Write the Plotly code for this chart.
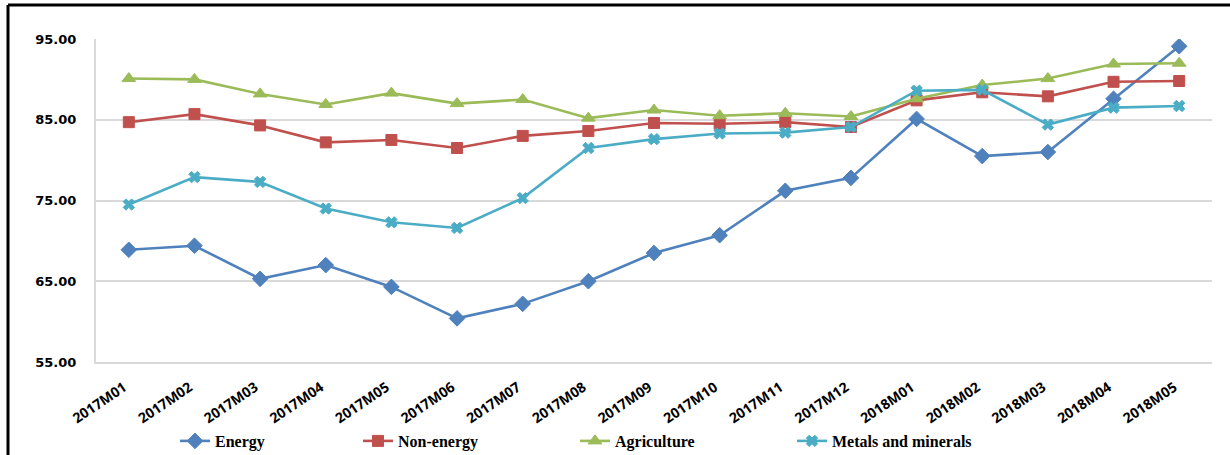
import plotly.graph_objects as go

months = ["2017M01", "2017M02", "2017M03", "2017M04", "2017M05", "2017M06",
          "2017M07", "2017M08", "2017M09", "2017M10", "2017M11", "2017M12",
          "2018M01", "2018M02", "2018M03", "2018M04", "2018M05"]

energy = [68.9, 69.4, 65.3, 67.0, 64.3, 60.4, 62.2, 65.0, 68.5, 70.7, 76.2, 77.8,
          85.1, 80.5, 81.0, 87.6, 94.1]
non_energy = [84.7, 85.7, 84.3, 82.2, 82.5, 81.5, 83.0, 83.6, 84.6, 84.5, 84.7, 84.1,
              87.4, 88.4, 87.9, 89.7, 89.8]
agriculture = [90.1, 90.0, 88.2, 86.9, 88.3, 87.0, 87.5, 85.2, 86.2, 85.5, 85.8, 85.4,
               87.6, 89.3, 90.1, 91.9, 92.0]
metals = [74.5, 77.9, 77.3, 74.0, 72.3, 71.6, 75.3, 81.5, 82.6, 83.3, 83.4, 84.1,
          88.6, 88.7, 84.4, 86.5, 86.7]

y_ticks = [55, 65, 75, 85, 95]
y_tick_text = ["55.00", "65.00", "75.00", "85.00", "95.00"]

series = [
    ("Energy", energy, "#4F81BD", "diamond", 12, "legend"),
    ("Non-energy", non_energy, "#C0504D", "square", 11, "legend2"),
    ("Agriculture", agriculture, "#9BBB59", "triangle-up", 12, "legend3"),
    ("Metals and minerals", metals, "#4BACC6", "x", 10, "legend4"),
]

W, H = 1230, 455
L, R, T, B = 96, 18, 39, 93
pw, ph = W - L - R, H - T - B

fig = go.Figure()
for name, vals, color, symbol, size, leg in series:
    fig.add_trace(go.Scatter(
        x=months, y=vals, name=name, mode="lines+markers",
        line=dict(color=color, width=2.6),
        marker=dict(symbol=symbol, size=size, color=color,
                    line=dict(color=color, width=1)),
        legend=leg,
    ))

legend_font = dict(family="Liberation Serif", size=16, color="#000000", weight="bold")
legend_starts = [183, 366, 583, 800]
legend_keys = ["legend", "legend2", "legend3", "legend4"]
legend_layout = {}
for key, px in zip(legend_keys, legend_starts):
    legend_layout[key] = dict(
        x=(px - L - 8) / pw, xanchor="left",
        y=(T + ph - 441) / ph, yanchor="middle",
        orientation="h", font=legend_font, bgcolor="rgba(0,0,0,0)",
        borderwidth=0, itemwidth=30,
    )

fig.update_layout(
    width=W, height=H,
    margin=dict(l=L, r=R, t=T, b=B, pad=0, autoexpand=False),
    paper_bgcolor="white", plot_bgcolor="white",
    showlegend=True,
    **legend_layout,
    xaxis=dict(
        type="category", range=[-0.5, 16.5], automargin=False,
        tickangle=-34, ticks="", showgrid=False,
        showline=True, linecolor="#d9d9d9", linewidth=2,
        tickfont=dict(family="Open Sans", size=14, color="#000000", weight="bold"),
        ticklabelstandoff=10, ticklabelshift=-5,
    ),
    yaxis=dict(
        range=[55, 95], tickvals=y_ticks, ticktext=y_tick_text, automargin=False,
        showgrid=True, gridcolor="#d9d9d9", gridwidth=1.5,
        showline=True, linecolor="#d9d9d9", linewidth=2,
        zeroline=False, ticks="",
        tickfont=dict(family="DejaVu Sans", size=13, color="#000000", weight="bold"),
        ticklabelstandoff=15,
    ),
    shapes=[
        # frame lines along the top and left of the chart area
        dict(type="line", xref="paper", yref="paper",
             x0=(8 - L) / pw, x1=(W - L) / pw,
             y0=(T + ph - 5) / ph, y1=(T + ph - 5) / ph,
             line=dict(color="black", width=3)),
        dict(type="line", xref="paper", yref="paper",
             x0=(8 - L) / pw, x1=(8 - L) / pw,
             y0=(T + ph - 5) / ph, y1=(T + ph - H) / ph,
             line=dict(color="black", width=3)),
    ],
)

fig.write_html("out.html")
